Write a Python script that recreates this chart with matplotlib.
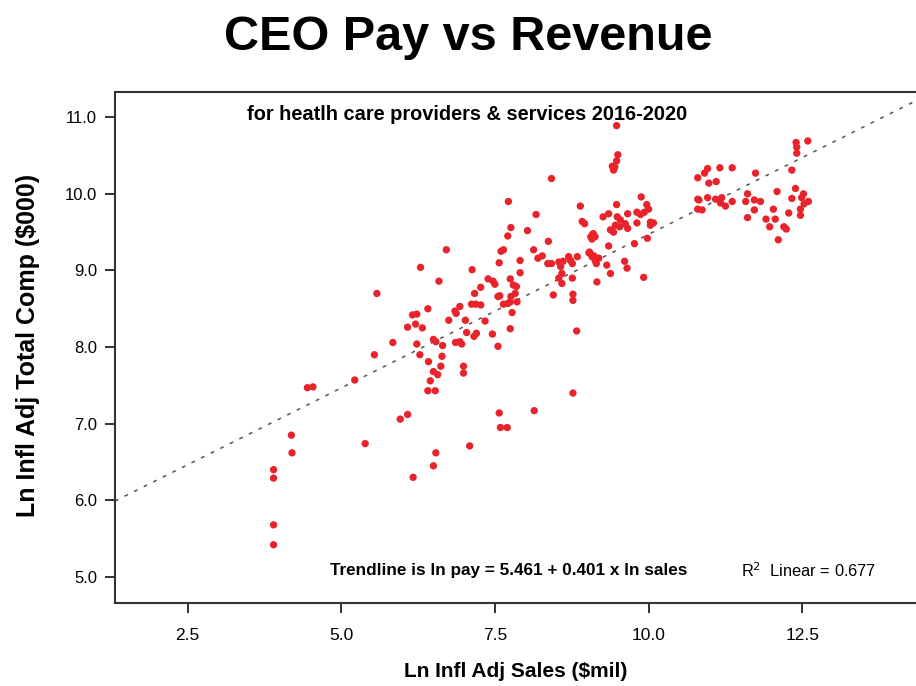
import matplotlib
matplotlib.use("Agg")
import matplotlib.pyplot as plt
import numpy as np

# ln inflation-adjusted sales ($mil) vs ln inflation-adjusted total comp ($000)
ln_sales = [
    3.90, 3.90, 3.90, 3.90, 4.19, 4.20, 4.45, 4.54,
    5.22, 5.39, 5.54, 5.58, 5.84, 5.96, 6.08, 6.17, 6.50, 6.54, 7.09,
    6.08, 6.16, 6.23, 6.21, 6.32, 6.29, 6.41, 6.23,
    6.28, 6.42, 6.45, 6.41, 6.53, 6.50, 6.57, 6.62, 6.64, 6.65, 6.50, 6.54,
    6.59, 6.71, 6.75, 6.86, 6.93, 6.96, 6.99, 6.99, 6.85, 6.87, 6.93,
    7.02, 7.04, 7.16, 7.20, 7.12, 7.19, 7.27, 7.13, 7.17, 7.27,
    7.34, 7.39, 7.47, 7.50, 7.46, 7.55, 7.55, 7.58,
    7.57, 7.59, 7.70, 8.14, 8.77,
    7.60, 7.57, 7.72, 7.76, 7.71, 7.64,
    7.75, 7.80, 7.85, 7.83, 7.76, 7.75, 7.71, 7.64, 7.86, 7.78, 7.75,
    7.91, 7.91, 8.03, 8.13, 8.17, 8.20, 8.27, 8.36, 8.42, 8.37, 8.42,
    8.45, 8.54, 8.57, 8.59, 8.54, 8.59, 8.61,
    8.70, 8.73, 8.76, 8.84, 8.76, 8.77, 8.77, 8.83,
    8.89, 8.92, 8.96,
    9.04, 9.11, 9.13, 9.03, 9.08, 9.15, 9.19, 9.16,
    9.09, 9.08, 9.10, 9.06, 9.13,
    9.26, 9.35, 9.35, 9.32, 9.38,
    9.48, 9.50, 9.48, 9.41, 9.43, 9.45,
    9.48, 9.49, 9.54, 9.46, 9.53, 9.62, 9.66, 9.38, 9.43, 9.66,
    9.61, 9.65, 9.77, 9.98, 9.92,
    9.81, 10.03, 10.08, 10.03,
    9.88, 9.97, 10.00, 9.81, 9.87, 9.93,
    10.80, 10.80, 10.80, 10.87, 10.82, 10.96, 11.09, 11.19, 11.17, 11.25, 11.36,
    10.96, 10.91, 11.16, 11.36, 10.98, 11.10, 11.74,
    11.61, 11.58, 11.72, 11.82, 11.72, 11.61,
    12.09, 12.39, 12.33, 12.52, 12.49, 12.60, 12.53,
    12.03, 12.28, 12.47, 12.47,
    11.91, 12.06, 11.97, 12.20, 12.24, 12.11,
    12.33, 12.40, 12.41, 12.41, 12.59,
]
ln_pay = [
    6.40, 6.29, 5.68, 5.42, 6.85, 6.62, 7.47, 7.48,
    7.57, 6.74, 7.90, 8.70, 8.06, 7.06, 7.12, 6.30, 6.45, 6.62, 6.71,
    8.26, 8.42, 8.43, 8.30, 8.25, 9.04, 8.50, 8.04,
    7.90, 7.81, 7.56, 7.43, 7.43, 7.68, 7.64, 7.75, 7.88, 8.02, 8.10, 8.07,
    8.86, 9.27, 8.35, 8.06, 8.07, 8.04, 7.75, 7.66, 8.47, 8.44, 8.53,
    8.35, 8.19, 8.14, 8.18, 8.56, 8.56, 8.55, 9.01, 8.70, 8.78,
    8.34, 8.89, 8.86, 8.82, 8.17, 8.01, 8.66, 8.67,
    7.14, 6.95, 6.95, 7.17, 7.40,
    9.25, 9.10, 9.90, 9.56, 9.45, 9.27,
    8.89, 8.81, 8.79, 8.70, 8.66, 8.59, 8.57, 8.56, 8.59, 8.45, 8.24,
    9.13, 8.97, 9.52, 9.27, 9.73, 9.16, 9.19, 9.09, 9.09, 9.38, 10.20,
    8.68, 9.11, 9.05, 8.96, 8.90, 8.83, 9.12,
    9.18, 9.13, 9.09, 9.18, 8.90, 8.69, 8.61, 8.21,
    9.84, 9.64, 9.61,
    9.24, 9.19, 9.13, 9.23, 9.18, 9.09, 9.16, 8.85,
    9.47, 9.41, 9.48, 9.44, 9.44,
    9.70, 9.74, 9.32, 9.07, 8.96,
    10.89, 10.51, 10.43, 10.36, 10.31, 10.35,
    9.86, 9.70, 9.66, 9.59, 9.57, 9.61, 9.55, 9.53, 9.50, 9.74,
    9.12, 9.03, 9.35, 9.42, 8.91,
    9.62, 9.63, 9.62, 9.59,
    9.96, 9.86, 9.80, 9.76, 9.73, 9.76,
    10.21, 9.93, 9.80, 9.79, 9.92, 9.95, 9.93, 9.95, 9.88, 9.84, 9.90,
    10.33, 10.27, 10.34, 10.34, 10.14, 10.16, 10.27,
    10.00, 9.90, 9.92, 9.90, 9.79, 9.69,
    10.03, 10.07, 9.94, 10.00, 9.95, 9.90, 9.87,
    9.80, 9.75, 9.80, 9.72,
    9.67, 9.67, 9.57, 9.57, 9.54, 9.40,
    10.31, 10.67, 10.61, 10.53, 10.69,
]

intercept = 5.461
slope = 0.401
r2 = 0.677

x_ticks = [2.5, 5.0, 7.5, 10.0, 12.5]
y_ticks = [5.0, 6.0, 7.0, 8.0, 9.0, 10.0, 11.0]

plt.rcParams['font.family'] = ['Liberation Sans', 'DejaVu Sans']

fig = plt.figure(figsize=(9.16, 6.86), dpi=100)
ax = fig.add_axes([0.1255, 0.121, 0.8745, 0.745])

xlim = (1.32, 14.35)
ax.set_xlim(*xlim)
ax.set_ylim(4.66, 11.33)

# trendline
tx = np.array(xlim)
ax.plot(tx, intercept + slope * tx, color='#555555', lw=1.1,
        linestyle=(0, (2.5, 4.5)), zorder=1)

ax.scatter(ln_sales, ln_pay, s=28, color='#e8232b', edgecolors='none', zorder=2)

ax.set_xticks(x_ticks)
ax.set_xticklabels([f"{v:.1f}" for v in x_ticks], fontsize=12.5)
ax.set_yticks(y_ticks)
ax.set_yticklabels([f"{v:.1f}" for v in y_ticks], fontsize=12)
ax.tick_params(axis='x', length=7, width=1.3, pad=11, color='#222222')
ax.tick_params(axis='y', length=7, width=1.3, pad=6, color='#222222')

for side in ['left', 'bottom', 'top']:
    ax.spines[side].set_linewidth(1.5)
    ax.spines[side].set_color('#333333')
ax.spines['right'].set_visible(False)

ax.set_xlabel("Ln Infl Adj Sales ($mil)", fontweight='bold', fontsize=15, labelpad=14)
ax.set_ylabel("Ln Infl Adj Total Comp ($000)", fontweight='bold', fontsize=18)
ax.yaxis.set_label_coords(-0.093, 0.503)

fig.text(0.511, 0.945, "CEO Pay vs Revenue", ha='center', va='center',
         fontsize=35, fontweight='bold')

ax.text(0.44, 0.956, "for heatlh care providers & services 2016-2020",
        transform=ax.transAxes, ha='center', va='center',
        fontweight='bold', fontsize=14.4)
ax.text(0.492, 0.063, f"Trendline is ln pay = {intercept} + {slope} x ln sales",
        transform=ax.transAxes, ha='center', va='center',
        fontweight='bold', fontsize=12.3)
ax.text(0.866, 0.063, f"R$^2$  Linear = {r2}",
        transform=ax.transAxes, ha='center', va='center', fontsize=11.8)

fig.savefig("out.png", dpi=100, facecolor='white')
